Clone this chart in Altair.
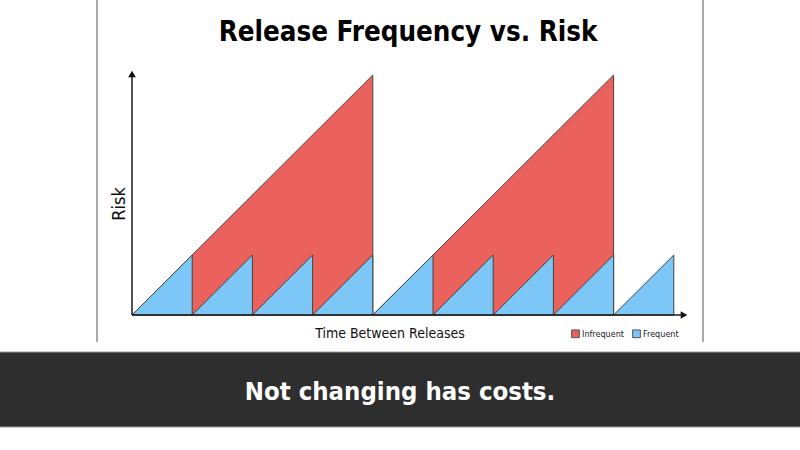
import altair as alt
import pandas as pd

# ---- data ----
series_names = ["Infrequent", "Frequent"]
series_colors = ["#eb625d", "#7cc7f7"]

# each triangle: start of interval, end of interval, risk reached at the end
red_start = [0, 4]
red_end = [4, 8]
red_peak = [4, 4]

blue_start = [0, 1, 2, 3, 4, 5, 6, 7, 8]
blue_end = [1, 2, 3, 4, 5, 6, 7, 8, 9]
blue_peak = [1, 1, 1, 1, 1, 1, 1, 1, 1]

title_text = "Release Frequency vs. Risk"
x_title = "Time Between Releases"
y_title = "Risk"
caption = "Not changing has costs."


def triangles(name, starts, ends, peaks):
    rows = []
    for i, (s, e, p) in enumerate(zip(starts, ends, peaks)):
        rows.append({"series": name, "tri": f"{name}{i}", "t": s, "risk": 0})
        rows.append({"series": name, "tri": f"{name}{i}", "t": e, "risk": p})
    return pd.DataFrame(rows)


red_df = triangles("Infrequent", red_start, red_end, red_peak)
blue_df = triangles("Frequent", blue_start, blue_end, blue_peak)

# ---- scales: the plot area is the whole 800x450 canvas ----
PX_X = 60.2
PX_Y = 60.0
X0, Y0 = 132, 315
XS = alt.Scale(domain=[-X0 / PX_X, (800 - X0) / PX_X], nice=False, zero=False)
YS = alt.Scale(domain=[-(450 - Y0) / PX_Y, Y0 / PX_Y], nice=False, zero=False)

NARROW = "DejaVu Sans Condensed, DejaVu Sans, sans-serif"

color_enc = alt.Color(
    "series:N",
    scale=alt.Scale(domain=series_names, range=series_colors),
    legend=alt.Legend(
        orient="none", legendX=571, legendY=329, direction="horizontal",
        title=None, symbolType="square", symbolSize=60,
        symbolStrokeColor="#555", symbolStrokeWidth=1, symbolOpacity=1,
        labelFont=NARROW, labelFontSize=9, labelColor="#222",
        labelFontWeight=500, labelOffset=2, columnPadding=5, padding=0,
    ),
)

one = pd.DataFrame({"k": [0]})

frame_lines = alt.Chart(pd.DataFrame({"px": [97, 703]})).mark_rule(
    color="#8c8c8c", strokeWidth=1.5
).encode(x=alt.X("px:Q", scale=None), y=alt.value(0), y2=alt.value(342))


def tri_layer(df):
    return alt.Chart(df).mark_area(
        orient="vertical", stroke="#444", strokeWidth=1, opacity=1, fillOpacity=1
    ).encode(
        x=alt.X("t:Q", scale=XS, axis=None),
        y=alt.Y("risk:Q", scale=YS, axis=None, stack=None),
        y2=alt.Y2(datum=0),
        color=color_enc,
        detail="tri:N",
    )


red = tri_layer(red_df)
blue = tri_layer(blue_df)

axis_df = pd.DataFrame({"x": [0, 0], "y": [0, 0], "x2": [0, 9.17], "y2": [4.017, 0]})
axis_lines = alt.Chart(axis_df).mark_rule(color="#1a1a1a", strokeWidth=1.5).encode(
    x=alt.X("x:Q", scale=XS, axis=None),
    y=alt.Y("y:Q", scale=YS, axis=None),
    x2="x2:Q",
    y2="y2:Q",
)

arrow_df = pd.DataFrame({"x": [0, 9.17], "y": [4.017, 0], "shape": ["triangle-up", "triangle-right"]})
arrows = alt.Chart(arrow_df).mark_point(filled=True, color="#111", size=60, opacity=1).encode(
    x=alt.X("x:Q", scale=XS, axis=None),
    y=alt.Y("y:Q", scale=YS, axis=None),
    shape=alt.Shape("shape:N", scale=None),
)

title = alt.Chart(one).mark_text(
    text=title_text, font=NARROW, fontSize=27.5, fontWeight="bold", color="#000",
    align="center", baseline="alphabetic",
).encode(x=alt.value(408), y=alt.value(41))

xlab = alt.Chart(one).mark_text(
    text=x_title, font=NARROW, fontSize=14, fontWeight=500, color="#111",
    align="center", baseline="alphabetic",
).encode(x=alt.value(390), y=alt.value(338))

ylab = alt.Chart(one).mark_text(
    text=y_title, font=NARROW, fontSize=18, color="#111", angle=270,
    align="center", baseline="alphabetic",
).encode(x=alt.value(125), y=alt.value(204))

band = alt.Chart(one).mark_rect(color="#2e2e2e", stroke="#9a9a9a", strokeWidth=1).encode(
    x=alt.value(-2), x2=alt.value(802), y=alt.value(352), y2=alt.value(427)
)

band_text = alt.Chart(one).mark_text(
    text=caption, font=NARROW, fontSize=25.5, fontWeight="bold", color="#ffffff",
    align="center", baseline="alphabetic",
).encode(x=alt.value(400), y=alt.value(400))

chart = alt.layer(
    frame_lines, red, blue, axis_lines, arrows, title, xlab, ylab, band, band_text
).properties(
    width=800, height=450, autosize="none", padding=0, background="#ffffff"
).configure_view(stroke=None)

chart.save("out.html", embed_options={"renderer": "svg", "actions": False})
